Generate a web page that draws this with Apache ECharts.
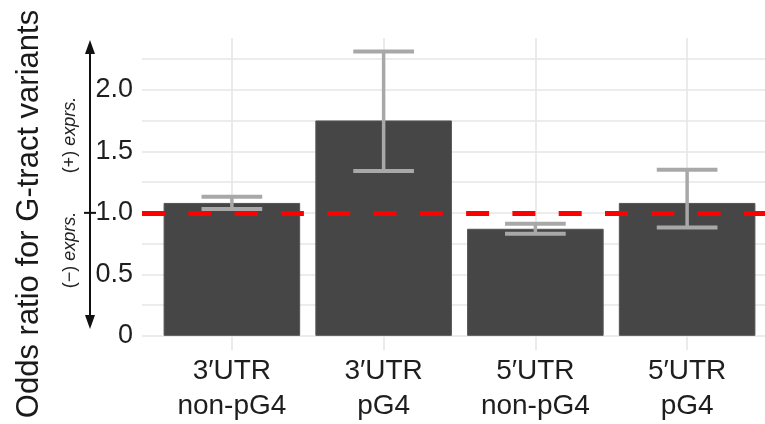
<!DOCTYPE html>
<html><head><meta charset="utf-8">
<script src="https://cdn.jsdelivr.net/npm/echarts@6/dist/echarts.min.js"></script>
<style>html,body{margin:0;padding:0;background:#fff}#c{width:765px;height:424px}</style>
</head><body><div id="c"></div>
<script>
// ---- data ----
const categories = ['3\u2032UTR\nnon-pG4', '3\u2032UTR\npG4', '5\u2032UTR\nnon-pG4', '5\u2032UTR\npG4'];
const oddsRatio = [1.08, 1.75, 0.87, 1.08];
const ciLower = [1.03, 1.34, 0.83, 0.88];
const ciUpper = [1.13, 2.31, 0.91, 1.35];
const yTickLabels = [0, 0.5, 1.0, 1.5, 2.0];
const refValue = 1;
const yTitle = 'Odds ratio for G-tract variants';
const upLabel = '(+) ';
const downLabel = '(\u2212) ';
const exprWord = 'exprs.';

const FONT = '"Liberation Sans", Arial, sans-serif';
const gridColor = '#e6e6e6';
const chart = echarts.init(document.getElementById('c'), null, {renderer: 'canvas'});

const splitColors = Array(10).fill(gridColor).concat(['rgba(0,0,0,0)']);

const option = {
  animation: false,
  textStyle: {fontFamily: FONT},
  grid: [
    {left: 142, right: 0, top: 38, bottom: 88},
    {left: 156, right: 2, top: 38, bottom: 74}
  ],
  xAxis: [
    {gridIndex: 0, type: 'value', min: 0, max: 1, show: false},
    {gridIndex: 1, type: 'category', data: categories,
     axisLine: {show: false}, axisTick: {show: false}, splitLine: {show: false},
     axisLabel: {fontSize: 28, lineHeight: 35, color: '#1e1e1e', margin: 4, fontFamily: FONT}}
  ],
  yAxis: [
    {gridIndex: 0, type: 'value', min: 0, max: 2.42, interval: 0.25,
     axisLine: {show: false}, axisTick: {show: false},
     axisLabel: {fontSize: 27, color: '#1e1e1e', margin: 9, fontFamily: FONT,
       formatter: function (v) {
         const r = Math.round(v * 100) / 100;
         if (yTickLabels.indexOf(r) < 0) return '';
         return r === 0 ? '0' : r.toFixed(1);
       }},
     splitLine: {show: true, lineStyle: {color: splitColors, width: 1.6}}},
    {gridIndex: 1, type: 'value', min: -0.115, max: 2.42, show: false, splitLine: {show: false}}
  ],
  series: [
    {
      type: 'bar', xAxisIndex: 1, yAxisIndex: 1, data: oddsRatio, barWidth: '90%', z: 2,
      itemStyle: {color: '#464646', borderColor: '#555', borderWidth: 1},
      markLine: {
        silent: true, symbol: 'none', z: 1, animation: false,
        label: {show: false},
        lineStyle: {color: gridColor, width: 1.6, type: 'solid'},
        data: categories.map((c, i) => ({xAxis: i}))
      }
    },
    {
      type: 'custom', xAxisIndex: 1, yAxisIndex: 1, z: 3,
      data: categories.map((c, i) => [i, ciLower[i], ciUpper[i]]),
      renderItem: function (params, api) {
        const lo = api.coord([api.value(0), api.value(1)]);
        const hi = api.coord([api.value(0), api.value(2)]);
        const half = api.size([1, 0])[0] * 0.2;
        const st = {stroke: '#a8a8a8', lineWidth: 4};
        return {type: 'group', children: [
          {type: 'line', shape: {x1: lo[0], y1: lo[1], x2: hi[0], y2: hi[1]}, style: {stroke: '#a8a8a8', lineWidth: 3.5}},
          {type: 'line', shape: {x1: lo[0] - half, y1: lo[1], x2: lo[0] + half, y2: lo[1]}, style: st},
          {type: 'line', shape: {x1: hi[0] - half, y1: hi[1], x2: hi[0] + half, y2: hi[1]}, style: st}
        ]};
      }
    },
    {
      type: 'line', xAxisIndex: 0, yAxisIndex: 0, data: [], z: 10,
      markLine: {
        silent: true, symbol: 'none', z: 10, animation: false,
        label: {show: false},
        lineStyle: {color: '#ff0000', width: 5, type: [23, 23.3], dashOffset: 0},
        data: [{yAxis: refValue}]
      }
    }
  ]
};
chart.setOption(option);

const yOne = chart.convertToPixel({yAxisIndex: 0}, refValue);
const ax = 90;
const exprStyle = function (prefix) {
  return {text: prefix + '{i|' + exprWord + '}', fontSize: 18, fill: '#222', fontFamily: FONT,
    textAlign: 'center', textVerticalAlign: 'middle',
    rich: {i: {fontStyle: 'italic', fontSize: 18, fontFamily: FONT, fill: '#222'}}};
};
chart.setOption({
  graphic: [
    {type: 'text', x: 29, y: 214, rotation: Math.PI / 2,
     style: {text: yTitle, fontSize: 31, fill: '#1a1a1a', fontFamily: FONT, textAlign: 'center', textVerticalAlign: 'middle'}},
    {type: 'line', shape: {x1: ax, y1: 50, x2: ax, y2: 320}, style: {stroke: '#111', lineWidth: 2}},
    {type: 'polygon', shape: {points: [[ax, 40], [ax - 5, 54], [ax + 5, 54]]}, style: {fill: '#111'}},
    {type: 'polygon', shape: {points: [[ax, 329], [ax - 5, 315], [ax + 5, 315]]}, style: {fill: '#111'}},
    {type: 'line', shape: {x1: ax - 6, y1: yOne, x2: ax + 6, y2: yOne}, style: {stroke: '#111', lineWidth: 2}},
    {type: 'text', x: 70, y: 135, rotation: Math.PI / 2, style: exprStyle(upLabel)},
    {type: 'text', x: 70, y: 250, rotation: Math.PI / 2, style: exprStyle(downLabel)}
  ]
});
</script>
</body></html>
